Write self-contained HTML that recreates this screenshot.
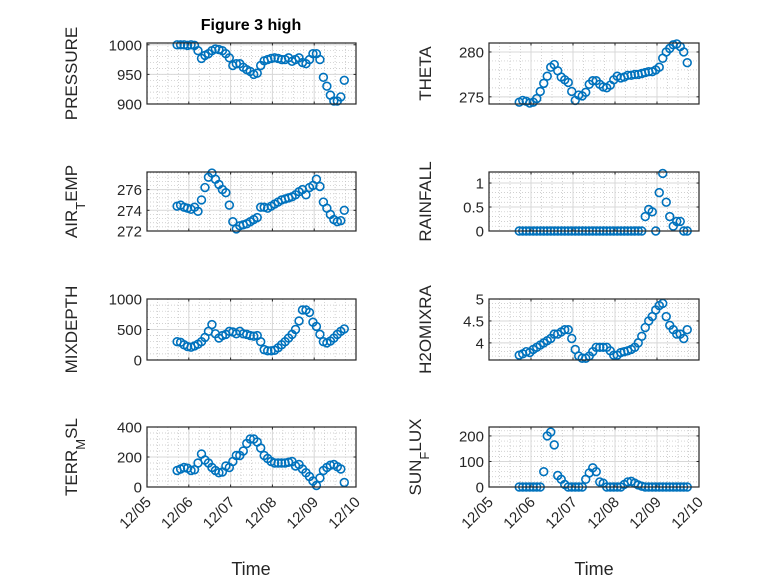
<!DOCTYPE html>
<html><head><meta charset="utf-8"><style>
html,body{margin:0;padding:0;background:#fff;}
svg{display:block;font-family:"Liberation Sans","DejaVu Sans",sans-serif;}
</style></head><body>
<svg id="fig" width="778" height="583" viewBox="0 0 778 583" xmlns="http://www.w3.org/2000/svg">
<rect width="778" height="583" fill="#fff"/>
<text x="251" y="30" text-anchor="middle" font-size="16" font-weight="bold" fill="#000">Figure 3 high</text>
<text x="251" y="575" text-anchor="middle" font-size="18" fill="#262626">Time</text>
<text x="594" y="575" text-anchor="middle" font-size="18" fill="#262626">Time</text>
</svg>
<script>
// Time of each sample, hours after 12/05 17:17 (start day 5.72)
const hours = [0,2,4,6,8,10,12,14,16,18,20,22,24,26,28,30,32,34,36,38,40,42,44,46,48,50,52,54,56,58,60,62,64,66,68,70,72,74,76,78,80,82,84,86,88,90,92,94,96];
const startDay = 5.72;
const dayTicks = [5,6,7,8,9,10];
const dayTickLabels = ['12/05','12/06','12/07','12/08','12/09','12/10'];

const pressure = [1000,1000,1000,999,1000,999,990,977,982,985,990,993,992,990,985,978,965,968,968,962,958,955,950,952,965,973,975,977,978,977,975,975,978,972,975,978,970,968,975,985,985,975,945,930,915,905,905,912,940];
const theta = [274.4,274.6,274.5,274.3,274.4,274.8,275.6,276.5,277.3,278.3,278.6,277.9,277.2,276.9,276.6,275.6,274.6,275.2,275.1,275.5,276.4,276.8,276.8,276.4,276.1,276.0,276.3,276.9,277.3,277.1,277.2,277.4,277.4,277.5,277.5,277.6,277.7,277.8,277.8,278.0,278.3,279.3,280.0,280.4,280.8,280.9,280.6,280.0,278.8];
const airTemp = [274.4,274.5,274.3,274.2,274.1,274.3,273.9,275.0,276.2,277.2,277.6,277.0,276.5,276.0,275.7,274.5,272.9,272.2,272.5,272.6,272.7,272.9,273.1,273.3,274.3,274.3,274.2,274.4,274.6,274.8,275.0,275.1,275.2,275.3,275.5,275.8,276.0,275.5,276.2,276.4,277.0,276.3,274.8,274.2,273.6,273.1,272.9,273.0,274.0];
const rainfall = [0,0,0,0,0,0,0,0,0,0,0,0,0,0,0,0,0,0,0,0,0,0,0,0,0,0,0,0,0,0,0,0,0,0,0,0,0.3,0.45,0.4,0,0.8,1.2,0.6,0.3,0.1,0.2,0.2,0,0];
const mixDepth = [300,290,250,220,210,230,260,300,370,470,580,430,360,400,420,470,460,430,470,430,420,400,390,400,300,170,150,150,160,200,250,300,360,420,500,640,820,820,780,620,550,420,300,280,310,360,420,470,510];
const h2oMix = [3.72,3.75,3.8,3.78,3.85,3.9,3.95,4.0,4.05,4.1,4.2,4.2,4.25,4.3,4.3,4.1,3.85,3.7,3.65,3.65,3.7,3.8,3.9,3.9,3.9,3.9,3.82,3.72,3.72,3.78,3.8,3.82,3.85,3.9,4.0,4.15,4.35,4.5,4.6,4.75,4.85,4.9,4.6,4.4,4.3,4.2,4.2,4.1,4.3];
const terrMsl = [110,120,130,125,110,115,160,220,180,160,130,110,95,100,140,130,170,210,210,240,290,320,320,300,260,210,190,170,160,160,160,160,165,170,140,150,120,95,70,40,10,60,110,130,145,150,135,120,30];
const sunFlux = [0,0,0,0,0,0,0,60,200,215,165,45,30,10,0,0,0,0,0,30,55,75,60,20,15,0,0,0,0,0,10,20,22,15,8,3,0,0,0,0,0,0,0,0,0,0,0,0,0];

const pressureTicks=[900,950,1000], thetaTicks=[275,280], airTicks=[272,274,276], rainTicks=[0,0.5,1], rainTickLabels=['0','0.5','1'];
const mixTicks=[0,500,1000], h2oTicks=[4,4.5,5], h2oTickLabels=['4','4.5','5'], terrTicks=[0,200,400], sunTicks=[0,100,200];

const NS='http://www.w3.org/2000/svg';
const svg=document.getElementById('fig');
function mk(tag,attrs,parent){const e=document.createElementNS(NS,tag);for(const k in attrs)e.setAttribute(k,attrs[k]);(parent||svg).appendChild(e);return e;}

function panel(name,box,ylim,ticks,tickLabels,values,labelParts,showX){
  const g=mk('g',{});
  
  
  const [x0,y0,x1,y1]=box;
  const xs=d=>x0+(d-5)/5*(x1-x0);
  const ys=v=>y1-(v-ylim[0])/(ylim[1]-ylim[0])*(y1-y0);
  for(let d=5;d<10;d+=0.25){const x=xs(d);mk('line',{x1:x,x2:x,y1:y0,y2:y1,stroke:'#c0c0c0','stroke-width':0.7,'stroke-dasharray':'1 2'},g);}
  const step=ticks.length>1?ticks[1]-ticks[0]:1;
  for(let v=ticks[0]-step;v<=ylim[1]+1e-9;v+=step/5){if(v<ylim[0]-1e-9)continue;const y=ys(v);mk('line',{x1:x0,x2:x1,y1:y,y2:y,stroke:'#c0c0c0','stroke-width':0.7,'stroke-dasharray':'1 2'},g);}
  dayTicks.forEach(d=>{const x=xs(d);mk('line',{x1:x,x2:x,y1:y0,y2:y1,stroke:'#d8d8d8','stroke-width':1},g);});
  ticks.forEach(v=>{const y=ys(v);mk('line',{x1:x0,x2:x1,y1:y,y2:y,stroke:'#d8d8d8','stroke-width':1},g);});
  dayTicks.forEach(d=>{const x=xs(d);mk('line',{x1:x,x2:x,y1:y1,y2:y1-2.5,stroke:'#262626'},g);mk('line',{x1:x,x2:x,y1:y0,y2:y0+2.5,stroke:'#262626'},g);});
  ticks.forEach((v,i)=>{const y=ys(v);mk('line',{x1:x0,x2:x0+2.5,y1:y,y2:y,stroke:'#262626'},g);mk('line',{x1:x1,x2:x1-2.5,y1:y,y2:y,stroke:'#262626'},g);
    const t=mk('text',{x:x0-5,y:y+5.5,'text-anchor':'end','font-size':15,fill:'#262626'},g);t.textContent=tickLabels[i];
    
    });
  values.forEach((v,i)=>{const c=mk('circle',{cx:xs(startDay+hours[i]/24),cy:ys(v),r:3.9,fill:'none',stroke:'#0072BD','stroke-width':1.6},g);
    
    });
  mk('rect',{x:x0,y:y0,width:x1-x0,height:y1-y0,fill:'none',stroke:'#262626','stroke-width':1.2},g);
  const lx=x0-(box[4]||66), ly=(y0+y1)/2;
  const t=mk('text',{x:lx,y:ly,'text-anchor':'middle','font-size':17,fill:'#262626',transform:`rotate(-90 ${lx} ${ly})`},g);
  
  
  labelParts.forEach(p=>{const s=mk('tspan',{},t);s.textContent=p[0];if(p[1]==='sub'){s.setAttribute('baseline-shift','sub');s.setAttribute('font-size','13');}});
  if(showX){dayTicks.forEach((d,i)=>{const x=xs(d)+5,y=y1+16;const tt=mk('text',{x:x,y:y,'text-anchor':'end','font-size':15,fill:'#262626',transform:`rotate(-45 ${x} ${y})`},g);tt.textContent=dayTickLabels[i];
    
    });}
}
const L=[147,356],R=[489,699];
panel('pressure',[L[0],43,L[1],104,70],[900,1003],pressureTicks,pressureTicks.map(String),pressure,[['PRESSURE']],false);
panel('theta',[R[0],43,R[1],104,58],[274.2,281],thetaTicks,thetaTicks.map(String),theta,[['THETA']],false);
panel('air-temp',[L[0],172,L[1],231,70],[272,277.7],airTicks,airTicks.map(String),airTemp,[['AIR'],['T','sub'],['EMP']],false);
panel('rainfall',[R[0],172,R[1],231,58],[0,1.23],rainTicks,rainTickLabels,rainfall,[['RAINFALL']],false);
panel('mixdepth',[L[0],299,L[1],360,70],[0,1000],mixTicks,mixTicks.map(String),mixDepth,[['MIXDEPTH']],false);
panel('h2o-mix',[R[0],299,R[1],360,58],[3.61,5],h2oTicks,h2oTickLabels,h2oMix,[['H2OMIXRA']],false);
panel('terr-msl',[L[0],427,L[1],487,70],[0,400],terrTicks,terrTicks.map(String),terrMsl,[['TERR'],['M','sub'],['SL']],true);
panel('sun-flux',[R[0],427,R[1],487,68],[0,235],sunTicks,sunTicks.map(String),sunFlux,[['SUN'],['F','sub'],['LUX']],true);
</script>
</body></html>
